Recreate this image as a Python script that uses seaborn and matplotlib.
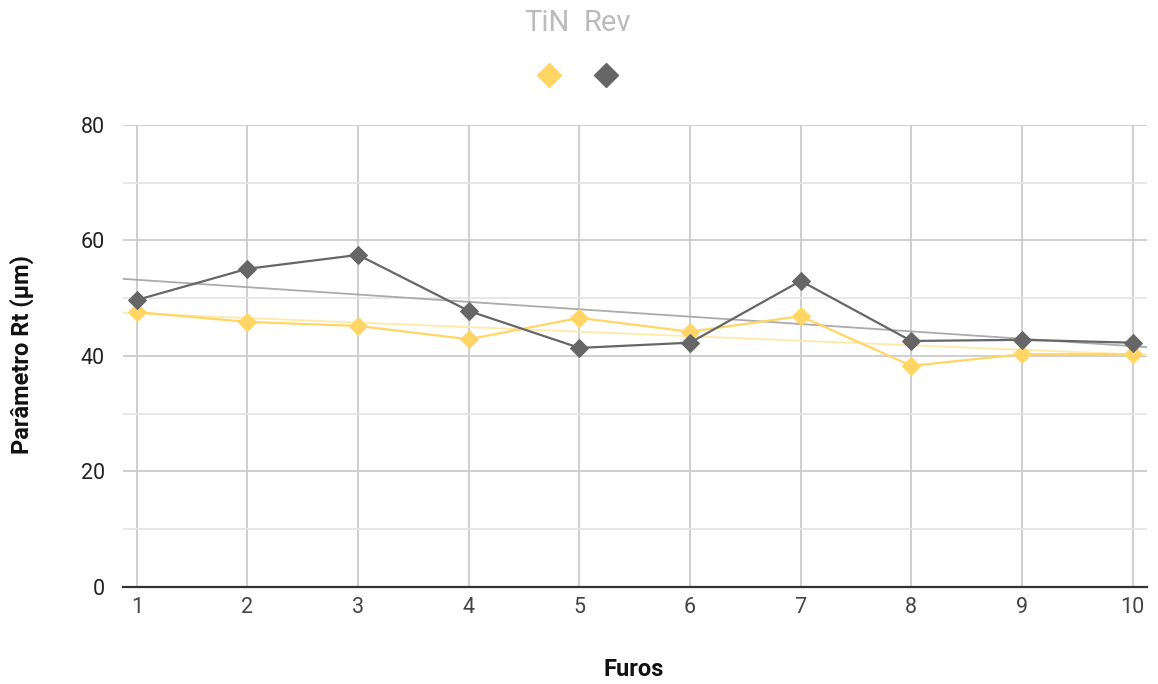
import numpy as np
import pandas as pd
import matplotlib.pyplot as plt
import seaborn as sns
from matplotlib.lines import Line2D
from matplotlib.ticker import MultipleLocator

furos = [1, 2, 3, 4, 5, 6, 7, 8, 9, 10]
tin = [47.6, 45.9, 45.2, 42.9, 46.6, 44.2, 46.9, 38.3, 40.3, 40.3]
rev = [49.7, 55.1, 57.5, 47.8, 41.4, 42.3, 53.0, 42.6, 42.8, 42.3]

yellow = '#FFD666'
gray = '#666666'

sns.set_style('white')
plt.rcParams['font.family'] = ['Roboto', 'DejaVu Sans']

df = pd.DataFrame({'Furos': furos, 'TiN': tin, 'Rev': rev})

fig = plt.figure(figsize=(11.58, 6.84), dpi=100)
ax = fig.add_axes([0.1062, 0.1418, 0.8843, 0.6755])
ax.set_xlim(0.875, 10.13)
ax.set_ylim(0, 80)

# trendlines
sns.regplot(data=df, x='Furos', y='TiN', scatter=False, ci=None, truncate=False,
            color='#FFE9A8', line_kws={'linewidth': 1.3}, ax=ax)
sns.regplot(data=df, x='Furos', y='Rev', scatter=False, ci=None, truncate=False,
            color='#ABABAB', line_kws={'linewidth': 1.3}, ax=ax)

sns.lineplot(data=df, x='Furos', y='TiN', color=yellow, marker='D', markersize=9,
             markeredgecolor=yellow, linewidth=1.6, ax=ax)
sns.lineplot(data=df, x='Furos', y='Rev', color=gray, marker='D', markersize=9,
             markeredgecolor=gray, linewidth=1.6, ax=ax)
ax.set_xlim(0.875, 10.13)
ax.set_ylim(0, 80)

ax.set_xticks(furos)
ax.yaxis.set_major_locator(MultipleLocator(20))
ax.yaxis.set_minor_locator(MultipleLocator(10))
ax.grid(which='major', axis='both', color='#CCCCCC', linewidth=1.3)
ax.grid(which='minor', axis='y', color='#E6E6E6', linewidth=1.3)
ax.set_axisbelow(True)
for s in ['top', 'right', 'left']:
    ax.spines[s].set_visible(False)
ax.spines['bottom'].set_color('#333333')
ax.spines['bottom'].set_linewidth(1.6)
ax.spines['bottom'].set_zorder(5)
ax.tick_params(axis='both', which='both', length=0, labelsize=15.5)
ax.tick_params(axis='x', colors='#444444', pad=7)
ax.tick_params(axis='y', colors='#222222', pad=13)

ax.set_xlabel('')
ax.set_ylabel('')
fig.text(0.019, 0.4815, 'Parâmetro Rt (µm)', rotation=90, ha='center', va='center',
         fontsize=17, fontweight='bold', color='#111111')
fig.text(0.547, 0.021, 'Furos', ha='center', va='center', fontsize=17,
         fontweight='bold', color='#111111')

# legend: labels above markers
fig.text(0.4725, 0.966, 'TiN', ha='center', va='center', fontsize=21, color='#BBBBBB')
fig.text(0.5245, 0.966, 'Rev', ha='center', va='center', fontsize=21, color='#BBBBBB')
fig.add_artist(Line2D([0.4745], [0.890], marker='D', markersize=12, color=yellow,
                      linestyle='none', transform=fig.transFigure))
fig.add_artist(Line2D([0.5235], [0.890], marker='D', markersize=12, color=gray,
                      linestyle='none', transform=fig.transFigure))

fig.savefig('out.png', dpi=100)
plt.close(fig)
